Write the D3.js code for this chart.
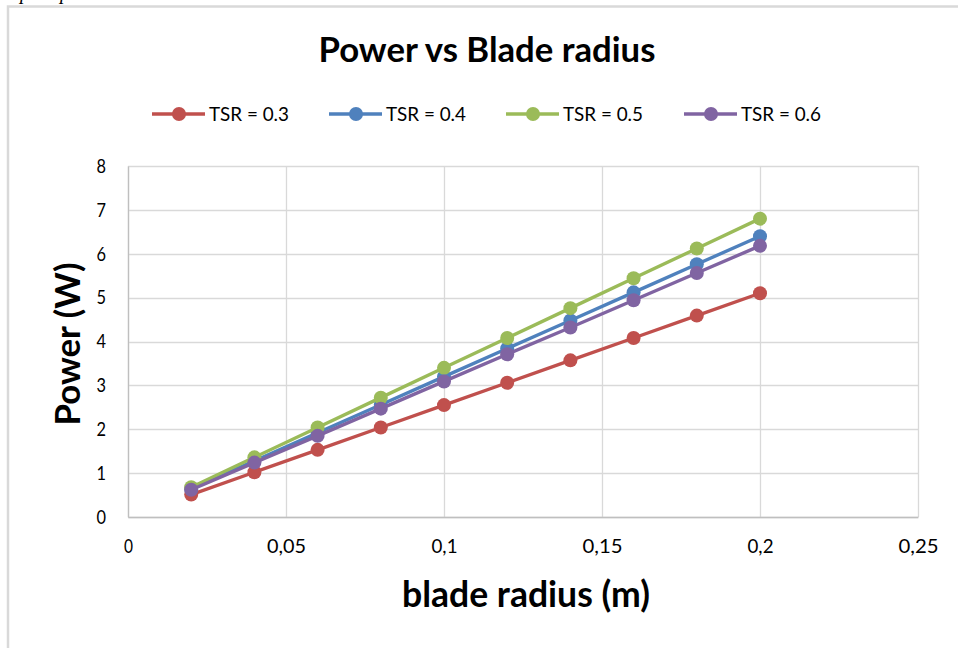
<!DOCTYPE html>
<html>
<head>
<meta charset="utf-8">
<script src="https://cdn.jsdelivr.net/npm/d3@7"></script>
<style>
  html, body { margin: 0; padding: 0; background: #fff; }
  svg { display: block; }
  text { font-family: Lato, "Open Sans", sans-serif; fill: #000; }
</style>
</head>
<body>
<svg id="chart" width="958" height="648"></svg>
<script>
// ---- data ----
const radius = [0.02, 0.04, 0.06, 0.08, 0.10, 0.12, 0.14, 0.16, 0.18, 0.20];
const tsr03 = [0.51, 1.02, 1.53, 2.04, 2.55, 3.06, 3.57, 4.08, 4.59, 5.10];
const tsr04 = [0.64, 1.28, 1.92, 2.56, 3.20, 3.84, 4.48, 5.12, 5.76, 6.40];
const tsr05 = [0.68, 1.36, 2.04, 2.72, 3.40, 4.08, 4.76, 5.44, 6.12, 6.80];
const tsr06 = [0.62, 1.24, 1.85, 2.47, 3.09, 3.71, 4.32, 4.94, 5.56, 6.18];
const seriesNames = ["TSR = 0.3", "TSR = 0.4", "TSR = 0.5", "TSR = 0.6"];
const seriesColors = ["#C0504D", "#4F81BD", "#9BBB59", "#8064A2"];
const xTicks = [0, 0.05, 0.1, 0.15, 0.2, 0.25];
const xTickLabels = ["0", "0,05", "0,1", "0,15", "0,2", "0,25"];
const yTicks = [0, 1, 2, 3, 4, 5, 6, 7, 8];
const titleText = "Power vs Blade radius";
const xTitle = "blade radius (m)";
const yTitle = "Power (W)";

const seriesValues = [tsr03, tsr04, tsr05, tsr06];
const series = seriesNames.map((name, i) => ({
  name, color: seriesColors[i],
  points: radius.map((r, j) => ({ x: r, y: seriesValues[i][j] }))
}));

const svg = d3.select("#chart");

// helper: fit text to a target width
function fitWidth(sel, target) {
  const node = sel.node();
  let fs = parseFloat(sel.attr("font-size"));
  const w = node.getComputedTextLength();
  if (w > 0) sel.attr("font-size", (fs * target / w).toFixed(2));
}

// cut-off italic text above the frame (as in the source page)
svg.append("text").attr("x", 20).attr("y", -1)
  .attr("font-size", 20).style("font-family", "'Liberation Serif', serif")
  .attr("font-style", "italic").text("p");
svg.append("text").attr("x", 60).attr("y", -1)
  .attr("font-size", 20).style("font-family", "'Liberation Serif', serif")
  .attr("font-style", "italic").text("p");

// outer frame
svg.append("path")
  .attr("d", "M8,660 L8,6.5 L970,6.5")
  .attr("fill", "none").attr("stroke", "#d9d9d9").attr("stroke-width", 2.5);

// plot area
const plot = { left: 128, right: 918, top: 166, bottom: 517 };
const x = d3.scaleLinear().domain([0, 0.25]).range([plot.left, plot.right]);
const y = d3.scaleLinear().domain([0, 8]).range([plot.bottom, plot.top]);

// gridlines
const grid = svg.append("g");
grid.selectAll("line.h").data(yTicks).join("line")
  .attr("x1", plot.left).attr("x2", plot.right)
  .attr("y1", d => Math.round(y(d)) + 0.5).attr("y2", d => Math.round(y(d)) + 0.5)
  .attr("stroke", "#d9d9d9").attr("stroke-width", 1.3);
grid.selectAll("line.v").data(xTicks).join("line")
  .attr("y1", plot.top).attr("y2", plot.bottom)
  .attr("x1", d => Math.round(x(d)) + 0.5).attr("x2", d => Math.round(x(d)) + 0.5)
  .attr("stroke", "#d9d9d9").attr("stroke-width", 1.3);

// axes (labels only)
const xAxis = d3.axisBottom(x).tickValues(xTicks)
  .tickFormat((d, i) => xTickLabels[i]).tickSize(0).tickPadding(22);
const gx = svg.append("g").attr("transform", `translate(0,${plot.bottom})`).call(xAxis);
gx.select(".domain").attr("stroke", "#bfbfbf").attr("stroke-width", 1.3);
gx.selectAll("text").attr("font-size", 19.5).style("font-family", "Lato, sans-serif").attr("fill", "#000")
  .attr("textLength", (d, i) => [9, 39, 26, 40, 26, 40][i]).attr("lengthAdjust", "spacingAndGlyphs");

const yAxis = d3.axisLeft(y).tickValues(yTicks).tickSize(0).tickPadding(22);
const gy = svg.append("g").attr("transform", `translate(${plot.left},0)`).call(yAxis);
gy.select(".domain").attr("stroke", "#bfbfbf").attr("stroke-width", 1.3);
gy.selectAll("text").attr("font-size", 19.5).style("font-family", "Lato, sans-serif").attr("fill", "#000")
  .attr("textLength", 9.5).attr("lengthAdjust", "spacingAndGlyphs");

// series
const line = d3.line().x(d => x(d.x)).y(d => y(d.y));
const gs = svg.append("g");
series.forEach(s => {
  gs.append("path").datum(s.points).attr("d", line)
    .attr("fill", "none").attr("stroke", s.color).attr("stroke-width", 3.4)
    .attr("stroke-linejoin", "round");
  gs.selectAll(null).data(s.points).join("circle")
    .attr("cx", d => x(d.x)).attr("cy", d => y(d.y)).attr("r", 7)
    .attr("fill", s.color);
});

// title
const t = svg.append("text").attr("x", 487).attr("y", 62)
  .attr("text-anchor", "middle").attr("font-weight", "bold").attr("font-size", 26)
  .text(titleText);
fitWidth(t, 337);

// legend
const legendX = [152, 329, 506, 684];
const lg = svg.append("g");
series.forEach((s, i) => {
  const g = lg.append("g").attr("transform", `translate(${legendX[i]},114)`);
  g.append("line").attr("x1", 0).attr("x2", 53).attr("y1", 0).attr("y2", 0)
    .attr("stroke", s.color).attr("stroke-width", 3.4);
  g.append("circle").attr("cx", 27).attr("cy", 0).attr("r", 7).attr("fill", s.color);
  g.append("text").attr("x", 57).attr("y", 7).attr("font-size", 19.5)
    .attr("textLength", 80).attr("lengthAdjust", "spacingAndGlyphs").text(s.name);
});

// axis titles
const xt = svg.append("text").attr("x", 526).attr("y", 607)
  .attr("text-anchor", "middle").attr("font-weight", "bold").attr("font-size", 28)
  .text(xTitle);
fitWidth(xt, 248);

const yt = svg.append("text")
  .attr("transform", "translate(80,344) rotate(-90)")
  .attr("text-anchor", "middle").attr("font-weight", "bold").attr("font-size", 28)
  .text(yTitle);
fitWidth(yt, 163);
</script>
</body>
</html>
